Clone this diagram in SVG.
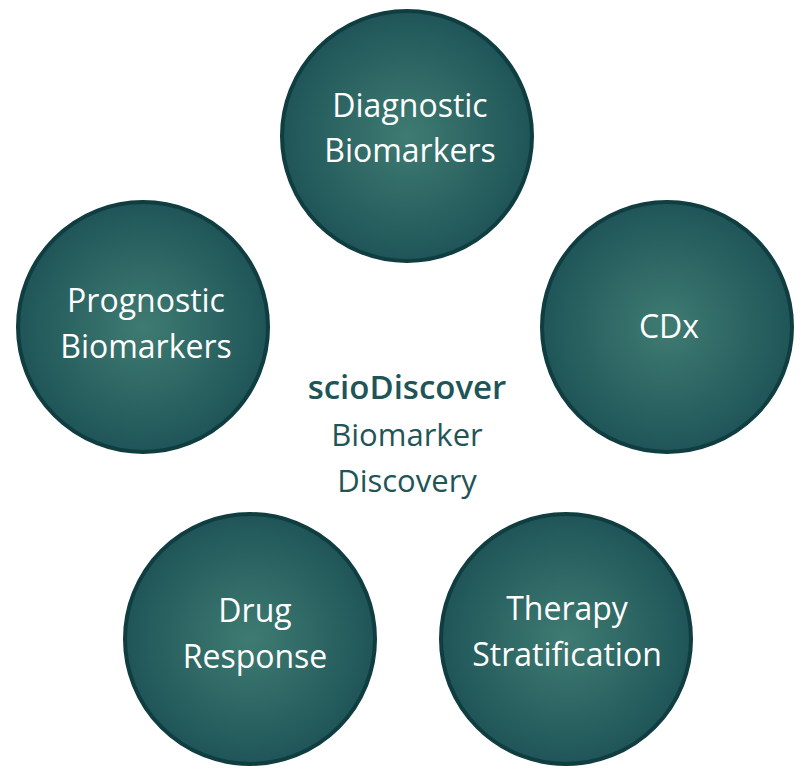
<svg xmlns="http://www.w3.org/2000/svg" width="806" height="780" viewBox="0 0 806 780">
<defs>
<radialGradient id="g" cx="50%" cy="50%" r="50%">
<stop offset="0" stop-color="#3f7b72"/>
<stop offset="1" stop-color="#1f5558"/>
</radialGradient>
<style>
.c{fill:url(#g);stroke:#0f3d40;stroke-width:4}
.t{fill:#fff;font-family:"Open Sans","DejaVu Sans",sans-serif;font-size:32px;text-anchor:middle}
.m{fill:#1f5558;font-family:"Open Sans","DejaVu Sans",sans-serif;text-anchor:middle}
</style>
</defs>
<rect width="806" height="780" fill="#fff"/>
<g id="diagnostic"><circle class="c" cx="407" cy="136" r="125"/><text class="t" x="410" y="117">Diagnostic</text><text class="t" x="410" y="162">Biomarkers</text></g>
<g id="cdx"><circle class="c" cx="667" cy="327" r="125"/><text class="t" x="669" y="338">CDx</text></g>
<g id="prognostic"><circle class="c" cx="143" cy="327" r="125"/><text class="t" x="146" y="312">Prognostic</text><text class="t" x="146" y="358">Biomarkers</text></g>
<g id="drug"><circle class="c" cx="250" cy="639" r="125"/><text class="t" x="255" y="622">Drug</text><text class="t" x="255" y="668">Response</text></g>
<g id="therapy"><circle class="c" cx="566" cy="639" r="125"/><text class="t" x="567" y="620">Therapy</text><text class="t" x="567" y="666">Stratification</text></g>
<g id="center"><text class="m" x="407" y="399" font-size="33" font-weight="600">scioDiscover</text><text class="m" x="407" y="446" font-size="31">Biomarker</text><text class="m" x="407" y="492" font-size="31">Discovery</text></g>
<g id="connectors"/>
</svg>
